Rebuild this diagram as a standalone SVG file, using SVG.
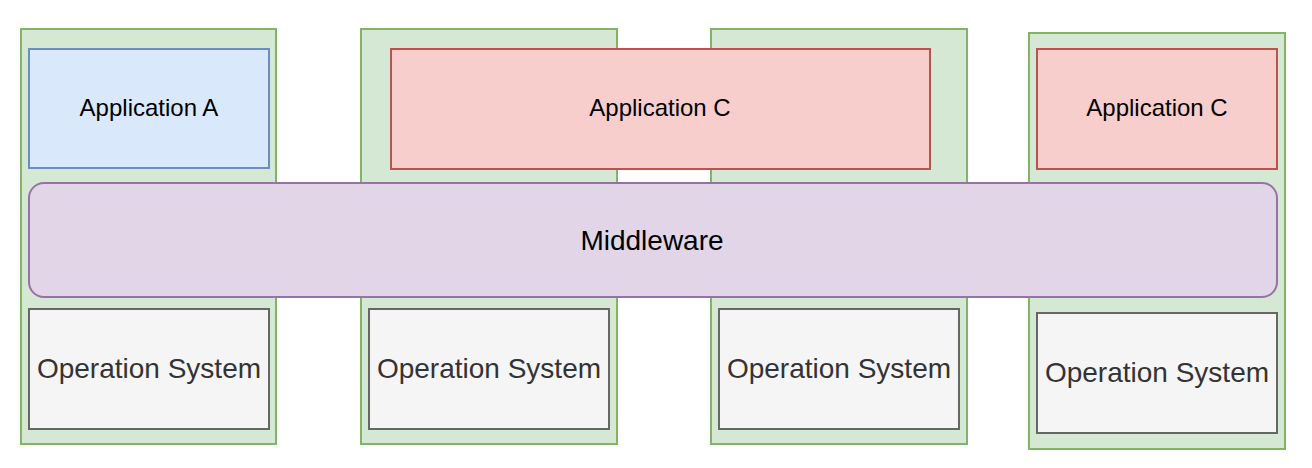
<svg xmlns="http://www.w3.org/2000/svg" width="1312" height="468" viewBox="0 0 1312 468">
  <style>
    .host { fill: #d5e8d4; stroke: #82b366; stroke-width: 2; }
    .app-a { fill: #dae8fc; stroke: #6c8ebf; stroke-width: 2; }
    .app-c { fill: #f8cecc; stroke: #b85450; stroke-width: 2; }
    .os { fill: #f5f5f5; stroke: #666666; stroke-width: 2; }
    .mw { fill: #e1d5e7; stroke: #9673a6; stroke-width: 2; }
    text { font-family: "Liberation Sans", Arial, Helvetica, sans-serif; text-anchor: middle; dominant-baseline: central; }
    .lbl-app { font-size: 24px; fill: #000000; }
    .lbl-mw { font-size: 28px; fill: #000000; }
    .lbl-os { font-size: 28px; fill: #333333; }
  </style>
  <rect width="1312" height="468" fill="#ffffff"/>

  <!-- host machines -->
  <g id="host1"><rect class="host" x="21" y="29" width="255" height="415"/></g>
  <g id="host2"><rect class="host" x="361" y="29" width="256" height="415"/></g>
  <g id="host3"><rect class="host" x="711" y="29" width="256" height="415"/></g>
  <g id="host4"><rect class="host" x="1029" y="33" width="256" height="416"/></g>

  <!-- applications -->
  <g id="app-a">
    <rect class="app-a" x="29" y="49" width="240" height="119"/>
    <text class="lbl-app" x="149" y="107.5">Application A</text>
  </g>
  <g id="app-c-shared">
    <rect class="app-c" x="391" y="49" width="539" height="120"/>
    <text class="lbl-app" x="660" y="107.5">Application C</text>
  </g>
  <g id="app-c">
    <rect class="app-c" x="1037" y="49" width="240" height="120"/>
    <text class="lbl-app" x="1157" y="107.5">Application C</text>
  </g>

  <!-- operating systems -->
  <g id="os1">
    <rect class="os" x="29" y="309" width="240" height="120"/>
    <text class="lbl-os" x="149" y="368">Operation System</text>
  </g>
  <g id="os2">
    <rect class="os" x="369" y="309" width="240" height="120"/>
    <text class="lbl-os" x="489" y="368">Operation System</text>
  </g>
  <g id="os3">
    <rect class="os" x="719" y="309" width="240" height="120"/>
    <text class="lbl-os" x="839" y="368">Operation System</text>
  </g>
  <g id="os4">
    <rect class="os" x="1037" y="313" width="240" height="120"/>
    <text class="lbl-os" x="1157" y="372">Operation System</text>
  </g>

  <!-- middleware layer spanning all hosts -->
  <g id="middleware">
    <rect class="mw" x="29" y="183" width="1248" height="114" rx="15" ry="15"/>
    <text class="lbl-mw" x="652" y="240">Middleware</text>
  </g>

  <g id="connectors"></g>
</svg>
